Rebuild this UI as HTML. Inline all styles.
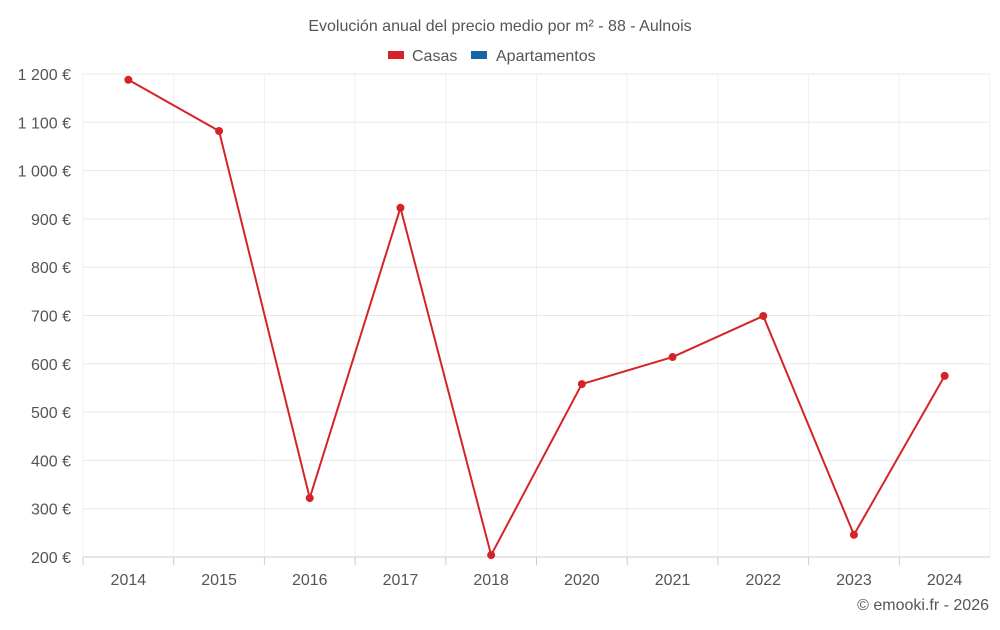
<!DOCTYPE html>
<html><head><meta charset="utf-8"><style>
body{margin:0;background:#fff;font-family:"Liberation Sans",sans-serif;}
svg text{font-family:"Liberation Sans",sans-serif;}
</style></head><body>
<svg id="chart" width="1000" height="625">
<text x="500" y="31" text-anchor="middle" font-size="16" fill="#555">Evolución anual del precio medio por m² - 88 - Aulnois</text>
<g>
<g><rect x="388" y="51" width="16" height="8" fill="#d42428"/><text x="412" y="61" font-size="16" fill="#555">Casas</text></g>
<g><rect x="471" y="51" width="16" height="8" fill="#1565a8"/><text x="496" y="61" font-size="16" fill="#555">Apartamentos</text></g>
</g>
<g id="grid"></g>
<g id="yaxis"></g>
<g id="xaxis"></g>
<g id="series"></g>
<text x="989" y="610" text-anchor="end" font-size="16" fill="#555">© emooki.fr - 2026</text>
</svg>
<script>
const categories=["2014","2015","2016","2017","2018","2020","2021","2022","2023","2024"];
const casas=[1188,1082,322,923,204,558,614,699,246,575];
const yTicks=[200,300,400,500,600,700,800,900,1000,1100,1200];
const yTickLabels=["200 €","300 €","400 €","500 €","600 €","700 €","800 €","900 €","1 000 €","1 100 €","1 200 €"];
const L=83,R=990,T=74,B=557,yMin=200,yMax=1200;
const band=(R-L)/categories.length;
const xs=i=>L+band*(i+0.5);
const ys=v=>B-(v-yMin)/(yMax-yMin)*(B-T);
const NS="http://www.w3.org/2000/svg";
function mk(tag,attrs,parent){const e=document.createElementNS(NS,tag);for(const k in attrs)e.setAttribute(k,attrs[k]);parent.appendChild(e);return e;}
const grid=document.getElementById('grid'),ya=document.getElementById('yaxis'),xa=document.getElementById('xaxis'),se=document.getElementById('series');
yTicks.forEach((t,i)=>{
 const l=mk('line',{x1:L,x2:R,y1:ys(t),y2:ys(t),stroke:i==0?'#ccc':'#e8e8e8','stroke-width':1},grid);
 
 
 const tx=mk('text',{x:71,y:ys(t)+6,'text-anchor':'end','font-size':16,fill:'#555'},ya);
 tx.textContent=yTickLabels[i];
 
 
});
for(let i=0;i<=categories.length;i++){
 const l=mk('line',{x1:L+band*i,x2:L+band*i,y1:T,y2:B,stroke:'#f0f0f0'},grid);
 
 
}
categories.forEach((c,i)=>{
 const tk=mk('line',{x1:L+band*i,x2:L+band*i,y1:B,y2:B+8,stroke:'#ccc'},xa);
 
 
 const tx=mk('text',{x:xs(i),y:B+28,'text-anchor':'middle','font-size':16,fill:'#555'},xa);
 tx.textContent=c;
 
 
});
const pl=mk('polyline',{points:casas.map((v,i)=>xs(i)+','+ys(v)).join(' '),fill:'none',stroke:'#d42428','stroke-width':2},se);


casas.forEach((v,i)=>{
 const c=mk('circle',{cx:xs(i),cy:ys(v),r:4,fill:'#d42428'},se);
 
 
});
</script>
</body></html>
